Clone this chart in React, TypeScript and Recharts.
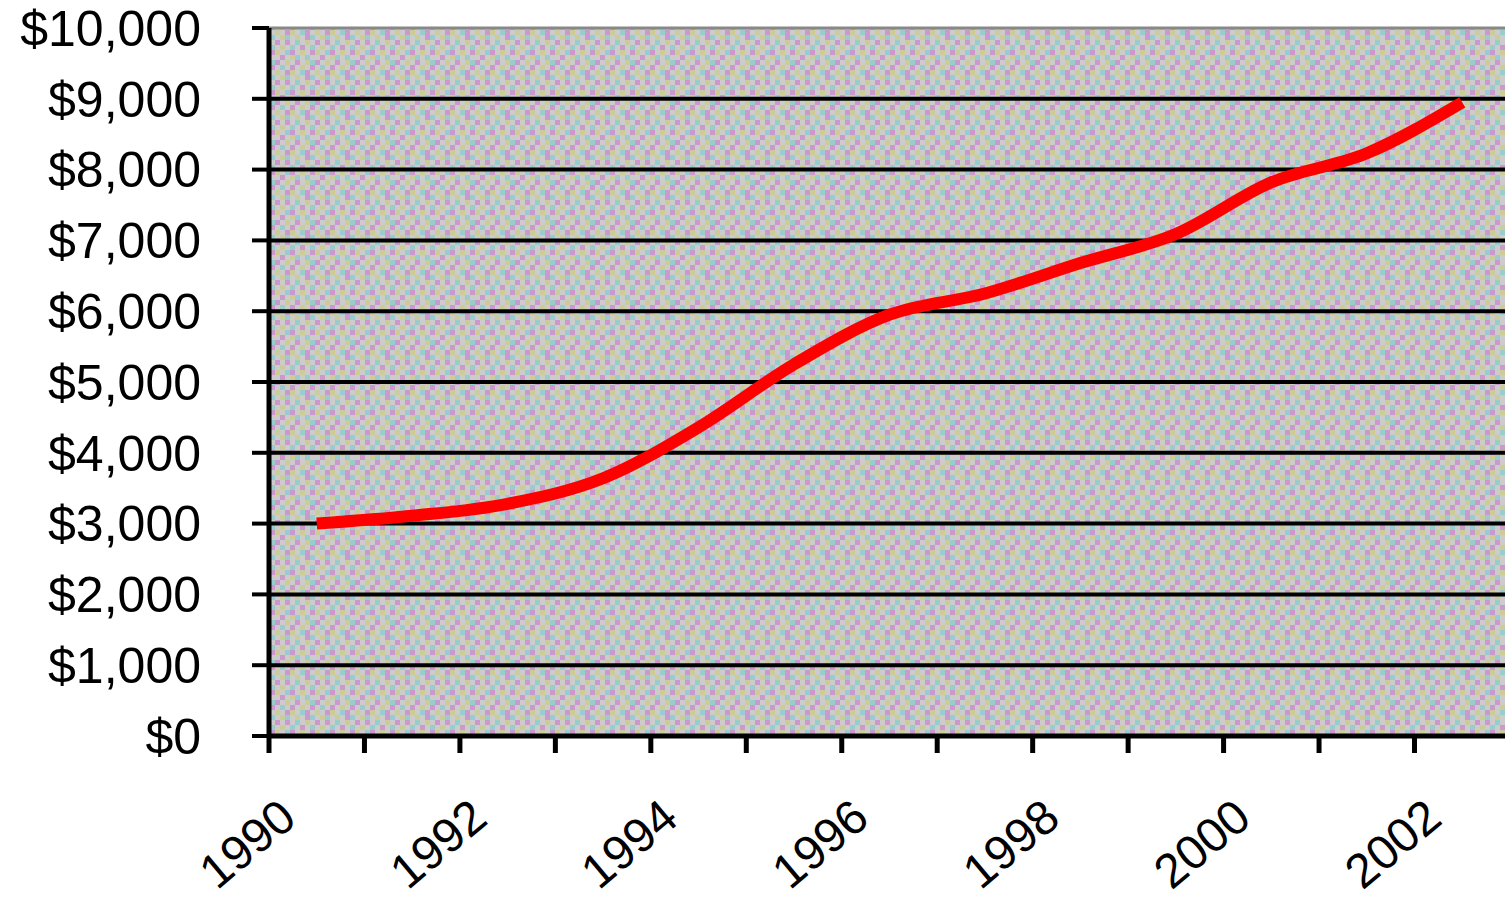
import { LineChart, Line, XAxis, YAxis, ReferenceLine, CartesianGrid } from 'recharts'

const years = ['1990', '1991', '1992', '1993', '1994', '1995', '1996', '1997', '1998', '1999', '2000', '2001', '2002']
const income = [3000, 3110, 3280, 3640, 4360, 5250, 5950, 6250, 6680, 7090, 7820, 8230, 8950]
const yTicks = [0, 1000, 2000, 3000, 4000, 5000, 6000, 7000, 8000, 9000, 10000]
const gridValues = [1000, 2000, 3000, 4000, 5000, 6000, 7000, 8000, 9000]

const data = years.map((year, i) => ({ year, income: income[i] }))

const FONT = '"Liberation Sans", Arial, sans-serif'
const HALF_STEP = 47.75

// dither texture for the plot background
const tile = [
  'gpgcgkgp',
  'kgcgpgcg',
  'gcpgkgpk',
  'pgkcgcgg',
  'gkgpgkcp',
  'cgpgkgpg',
  'gpkgcpgk',
  'kcgkgpcg',
]
const colors: Record<string, string> = { g: '#cccccc', p: '#cc99cc', c: '#99cccc', k: '#cccc99' }

function Pattern() {
  return (
    <svg width={0} height={0} style={{ position: 'absolute' }}>
      <defs>
        <pattern id="dither" width={40} height={40} patternUnits="userSpaceOnUse">
          {tile.map((row, r) =>
            row.split('').map((ch, c) => (
              <rect key={`${r}-${c}`} x={c * 5} y={r * 5} width={5} height={5} fill={colors[ch]} />
            ))
          )}
        </pattern>
      </defs>
    </svg>
  )
}

function YearTick(props: any) {
  const { x, y, payload, index } = props
  const tx = x - HALF_STEP
  return (
    <g>
      <line x1={tx} y1={y} x2={tx} y2={y + 17} stroke="#000" strokeWidth={5} />
      {index % 2 === 0 && (
        <text
          x={0}
          y={0}
          transform={`translate(${x - 18}, ${y + 86}) rotate(-40)`}
          textAnchor="end"
          fontSize={48}
          fontFamily={FONT}
          fill="#000"
        >
          {payload.value}
        </text>
      )}
    </g>
  )
}

export default function App() {
  return (
    <div style={{ position: 'absolute', left: 0, top: 0, width: 1505, height: 904, overflow: 'hidden', background: '#fff' }}>
      <Pattern />
      <LineChart width={1510} height={904} data={data} margin={{ top: 28, right: 0, left: 0, bottom: 0 }}>
        <CartesianGrid horizontal={false} vertical={false} fill="url(#dither)" fillOpacity={1} />
        <ReferenceLine y={10000} stroke="#888888" strokeWidth={3} />
        {gridValues.map((v) => (
          <ReferenceLine key={v} y={v} stroke="#000" strokeWidth={4} />
        ))}
        <XAxis
          dataKey="year"
          interval={0}
          padding={{ left: HALF_STEP, right: HALF_STEP }}
          height={168}
          axisLine={{ stroke: '#000', strokeWidth: 5 }}
          tickLine={false}
          tickSize={0}
          tickMargin={0}
          tick={<YearTick />}
        />
        <YAxis
          width={269}
          domain={[0, 10000]}
          ticks={yTicks}
          interval={0}
          axisLine={{ stroke: '#000', strokeWidth: 5 }}
          tickLine={{ stroke: '#000', strokeWidth: 4 }}
          tickSize={17}
          tickMargin={51}
          tickFormatter={(v: number) => `$${v.toLocaleString('en-US')}`}
          tick={{ fill: '#000', fontSize: 50, fontFamily: FONT }}
        />
        <Line
          type="monotone"
          dataKey="income"
          stroke="#ff0000"
          strokeWidth={12}
          dot={false}
          isAnimationActive={false}
        />
      </LineChart>
    </div>
  )
}
